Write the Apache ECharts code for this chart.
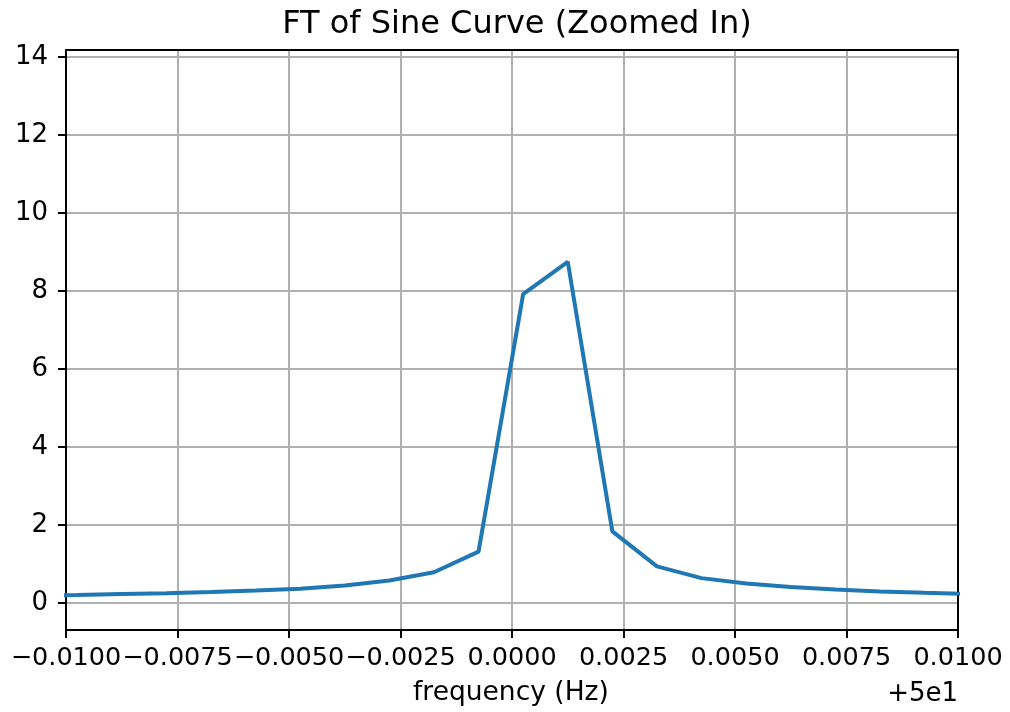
<!DOCTYPE html>
<html>
<head>
<meta charset="utf-8">
<script src="https://cdn.jsdelivr.net/npm/echarts@6/dist/echarts.min.js"></script>
<style>html,body{margin:0;padding:0;background:#fff}#c{width:1010px;height:712px}</style>
</head>
<body>
<div id="c"></div>
<script>
// frequency offsets from 50 Hz
const freqOffsets = [-0.01075, -0.00975, -0.00875, -0.00775, -0.00675, -0.00575, -0.00475, -0.00375, -0.00275, -0.00175, -0.00075,
  0.00025, 0.00125, 0.00225, 0.00325, 0.00425, 0.00525, 0.00625, 0.00725, 0.00825, 0.00925, 0.01025];
const magnitudes = [0.19, 0.205, 0.23, 0.255, 0.285, 0.32, 0.37, 0.45, 0.58, 0.79, 1.32,
  7.92, 8.75, 1.84, 0.94, 0.64, 0.50, 0.41, 0.35, 0.30, 0.265, 0.235];
const xTicks = [-0.01, -0.0075, -0.005, -0.0025, 0, 0.0025, 0.005, 0.0075, 0.01];
const yTicks = [0, 2, 4, 6, 8, 10, 12, 14];
const titleText = 'FT of Sine Curve (Zoomed In)';
const xLabel = 'frequency (Hz)';
const offsetText = '+5e1';

const FONT = 'DejaVu Sans';
const chart = echarts.init(document.getElementById('c'), null, {renderer: 'canvas'});
const data = freqOffsets.map((f, i) => [f, magnitudes[i]]);
const spine = {show: true, onZero: false, lineStyle: {color: '#000', width: 2}};
chart.setOption({
  animation: false,
  backgroundColor: '#fff',
  title: {
    text: titleText, left: 512, top: 4, textAlign: 'center',
    textStyle: {fontFamily: FONT, fontSize: 32, fontWeight: 'normal', color: '#000'}
  },
  grid: {left: 66, right: 52, top: 50, bottom: 82, show: false},
  xAxis: [{
    type: 'value', min: -0.01, max: 0.01, position: 'bottom',
    axisLine: spine,
    axisTick: {show: true, interval: 0, length: 8, lineStyle: {color: '#000', width: 2}, customValues: xTicks},
    axisLabel: {customValues: xTicks, interval: 0, margin: 15, color: '#000', fontFamily: FONT, fontSize: 25.5,
      hideOverlap: false, showMinLabel: true, showMaxLabel: true,
      formatter: v => (Math.abs(v) < 1e-12 ? 0 : v).toFixed(4).replace('-', '\u2212')},
    splitLine: {show: true, interval: 0, lineStyle: {color: '#b0b0b0', width: 2}}
  }, {
    type: 'value', min: -0.01, max: 0.01, position: 'top',
    axisLine: spine, axisTick: {show: false}, axisLabel: {show: false}, splitLine: {show: false}
  }],
  yAxis: [{
    type: 'value', min: -0.69, max: 14.18, position: 'left',
    axisLine: spine,
    axisTick: {show: true, interval: 0, length: 8, lineStyle: {color: '#000', width: 2}, customValues: yTicks},
    axisLabel: {customValues: yTicks, interval: 0, margin: 18, color: '#000', fontFamily: FONT, fontSize: 26, hideOverlap: false},
    splitLine: {show: true, lineStyle: {color: '#b0b0b0', width: 2}}
  }, {
    type: 'value', min: -0.69, max: 14.18, position: 'right',
    axisLine: spine, axisTick: {show: false}, axisLabel: {show: false}, splitLine: {show: false}
  }],
  series: [{
    type: 'line', data: data, xAxisIndex: 0, yAxisIndex: 0, showSymbol: false, clip: true,
    lineStyle: {color: '#1f77b4', width: 4}, itemStyle: {color: '#1f77b4'}
  }],
  graphic: [
    {type: 'text', left: 512 - 99, top: 680, style: {text: xLabel, fontFamily: FONT, fontSize: 26.5, fill: '#000'}},
    {type: 'text', right: 52, top: 681, style: {text: offsetText, fontFamily: FONT, fontSize: 26, fill: '#000'}}
  ]
});
</script>
</body>
</html>
